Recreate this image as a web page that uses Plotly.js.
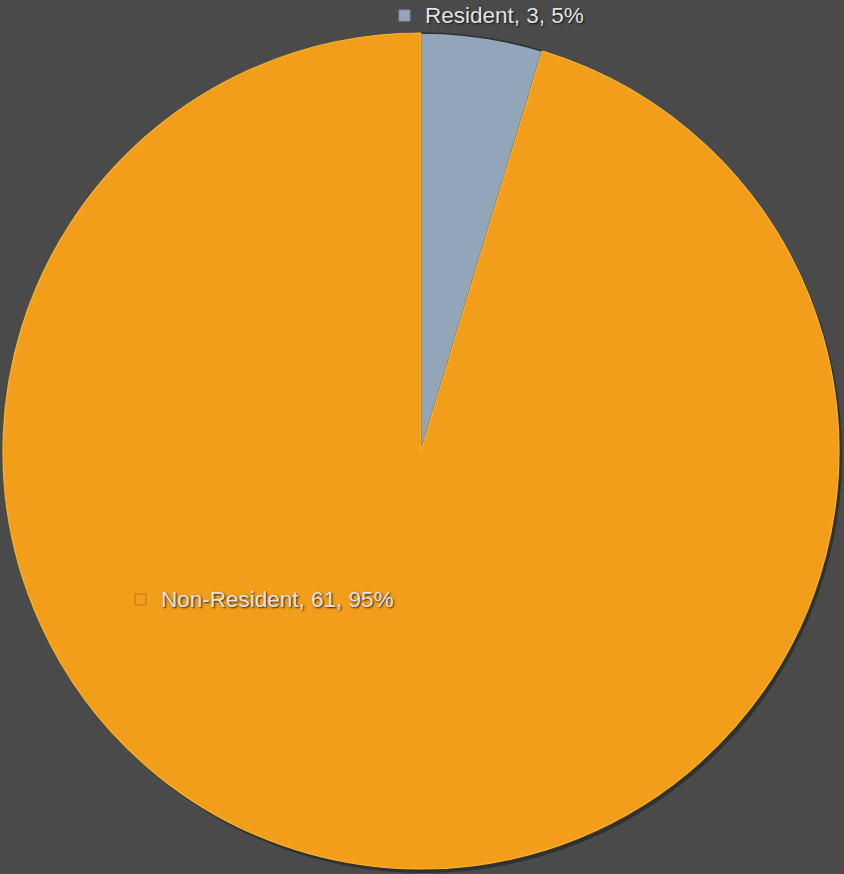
<!DOCTYPE html>
<html>
<head>
<meta charset="utf-8">
<script src="https://cdn.plot.ly/plotly-3.0.1.min.js"></script>
<style>
html,body{margin:0;padding:0;background:#4a4a4a;}
#chart{width:844px;height:874px;}
</style>
</head>
<body>
<div id="chart"></div>
<script>
const categories = ["Resident", "Non-Resident"];
const values = [3, 61];
const sliceColors = ["#93a5b8", "#f29e1a"];

const total = values.reduce((a, b) => a + b, 0);
const labelTexts = categories.map((c, i) => c + ", " + values[i] + ", " + Math.round(values[i] / total * 100) + "%");

const W = 844, H = 874;
const cx = 421, cy = 451, R = 418;

const trace = {
  type: "pie",
  labels: categories,
  values: values,
  sort: false,
  direction: "clockwise",
  rotation: 0,
  textinfo: "none",
  hoverinfo: "none",
  showlegend: false,
  marker: {
    colors: sliceColors,
    line: { color: ["#2e3338", "#f7b52c"], width: [1.5, 1.2] }
  },
  domain: {
    x: [(cx - R) / W, (cx + R) / W],
    y: [(H - cy - R) / H, (H - cy + R) / H]
  }
};

const labelPos = [[423, 15], [159, 599]];
const annotations = labelTexts.map((t, i) => ({
  text: t,
  xref: "paper", yref: "paper",
  x: labelPos[i][0] / W, y: 1 - labelPos[i][1] / H,
  xanchor: "left", yanchor: "middle",
  showarrow: false,
  font: { family: "Liberation Sans, Arial, sans-serif", size: 22.5, color: "#e2e2e2", shadow: "1px 1px 2px rgba(0,0,0,0.8)" }
}));

const shapes = [
  { type: "circle", layer: "below", xref: "paper", yref: "paper",
    x0: (cx - R + 3) / W, x1: (cx + R + 3) / W, y0: 1 - (cy + R + 4) / H, y1: 1 - (cy - R + 4) / H,
    fillcolor: "rgba(30,30,30,0.55)", line: { width: 0 } },
  { type: "rect", xref: "paper", yref: "paper",
    x0: (labelPos[0][0] - 24) / W, x1: (labelPos[0][0] - 13) / W,
    y0: 1 - (labelPos[0][1] + 6) / H, y1: 1 - (labelPos[0][1] - 5) / H,
    fillcolor: sliceColors[0], line: { color: "#7d8e9f", width: 1 } },
  { type: "rect", xref: "paper", yref: "paper",
    x0: (labelPos[1][0] - 24) / W, x1: (labelPos[1][0] - 13) / W,
    y0: 1 - (labelPos[1][1] + 6) / H, y1: 1 - (labelPos[1][1] - 5) / H,
    fillcolor: sliceColors[1], line: { color: "#b9761a", width: 1 } }
];

const layout = {
  width: W, height: H,
  margin: { l: 0, r: 0, t: 0, b: 0 },
  paper_bgcolor: "#4a4a4a",
  plot_bgcolor: "#4a4a4a",
  annotations: annotations,
  shapes: shapes
};

Plotly.newPlot("chart", [trace], layout, { staticPlot: true, displayModeBar: false });
</script>
</body>
</html>
